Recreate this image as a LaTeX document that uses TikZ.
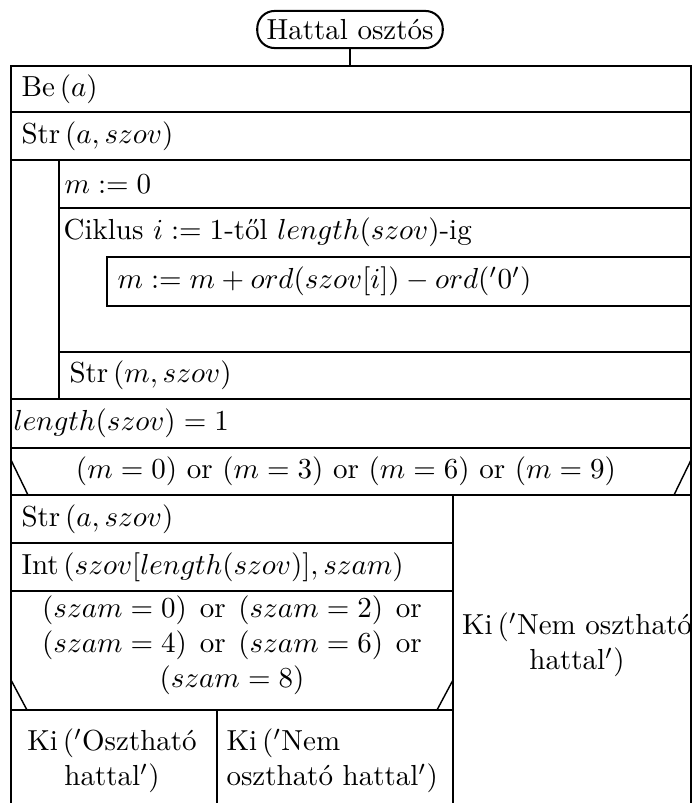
\documentclass[tikz,border=0pt]{standalone}
\usepackage{amsmath}
\newcommand{\orwide}{\hspace{4.4pt}or\hspace{4.4pt}}
\tikzset{
  nsline/.style={line width=0.9pt, draw=black},
  nsdiag/.style={line width=0.5pt, draw=black},
  stmt/.style={anchor=west, inner sep=0pt},
  stmt center/.style={align=center, inner sep=0pt},
  start box/.style={draw, line width=0.7pt, rounded corners=6pt,
    minimum width=64pt, minimum height=12.8pt, inner sep=2pt}
}

\begin{document}
\begin{tikzpicture}[x=0.345pt, y=-0.345pt]
  \useasboundingbox (0,0) rectangle (693,803);

  \node[start box] (start) at (350,29.5) {Hattal osztós};
  \coordinate (top) at (350,66);
  \draw[nsline] (start.south) -- (top);

  % frame and full rows
  \draw[nsline] (11,803) -- (11,66) -- (691,66) -- (691,803);
  \foreach \y in {112,160,399,448,495}
    \draw[nsline] (11,\y) -- (691,\y);

  % loop block
  \draw[nsline] (59,160) -- (59,399);
  \draw[nsline] (59,208) -- (691,208);
  \draw[nsline] (59,352) -- (691,352);
  \draw[nsline] (107,257) rectangle (691,306);

  % first branch
  \draw[nsdiag] (11,460) -- (28,495);
  \draw[nsdiag] (691,460) -- (674,495);
  \draw[nsline] (453,495) -- (453,803);
  \foreach \y in {543,591,710}
    \draw[nsline] (11,\y) -- (453,\y);

  % second branch
  \draw[nsdiag] (11,680) -- (27,710);
  \draw[nsdiag] (453,680) -- (437,710);
  \draw[nsline] (217,710) -- (217,803);

  \node[stmt] (be) at (21,89) {Be\,$(a)$};
  \node[stmt] (str1) at (21,136) {Str\,$(a, szov)$};
  \node[stmt] (init) at (64,184) {$m := 0$};
  \node[stmt] (loop) at (63,232.5) {Ciklus $i := 1$-től $length(szov)$-ig};
  \node[stmt] (sum) at (117,281.5) {$m := m + ord(szov[i]) - ord('0')$};
  \node[stmt] (str2) at (69,375.5) {Str\,$(m, szov)$};
  \node[stmt] (len) at (13,423.5) {$length(szov) = 1$};
  \node[stmt center] (cond1) at (346,471.5)
    {$(m = 0)$ or $(m = 3)$ or $(m = 6)$ or $(m = 9)$};
  \node[stmt] (str3) at (21,519) {Str\,$(a, szov)$};
  \node[stmt] (int) at (21,567) {Int\,$(szov[length(szov)], szam)$};
  \node[stmt center] (cond2) at (232,645)
    {$(szam = 0)$\orwide$(szam = 2)$\orwide\\
     $(szam = 4)$\orwide$(szam = 6)$\orwide\\ $(szam = 8)$};
  \node[stmt center] (kino) at (577,645) {Ki\,($'$Nem osztható\\ hattal$'$)};
  \node[stmt center] (kiyes) at (112,761) {Ki\,($'$Osztható\\ hattal$'$)};
  \node[stmt, align=left] (kinem) at (226,761) {Ki\,($'$Nem\\ osztható hattal$'$)};
\end{tikzpicture}
\end{document}
